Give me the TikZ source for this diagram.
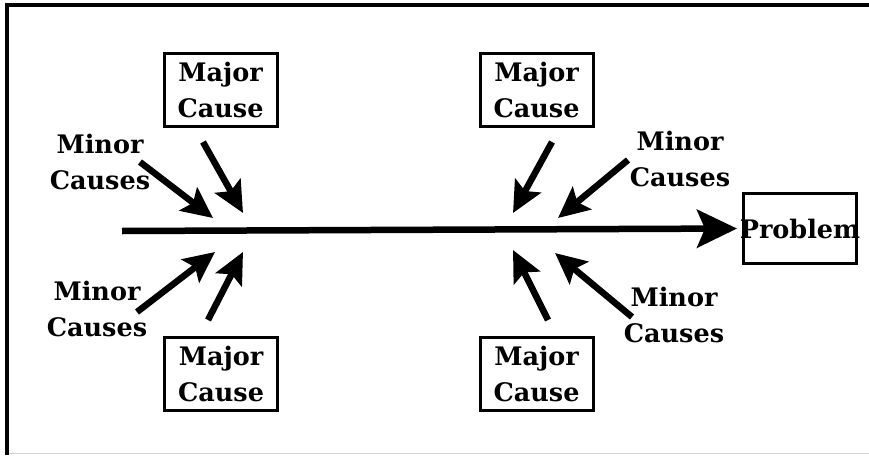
\documentclass[tikz,border=0pt]{standalone}
\usepackage{fontspec}
\setmainfont{DejaVu Serif}
\usetikzlibrary{arrows.meta}

\begin{document}
\begin{tikzpicture}[x=1pt,y=-1pt,
        every node/.style={font=\bfseries\fontsize{25.5}{36}\selectfont, align=center, inner sep=0pt},
        causebox/.style={draw, line width=3pt, minimum width=113pt, minimum height=73pt},
        bone/.style={line width=6.5pt, -{Stealth[length=31pt,width=29pt,inset=6pt]}}]
        \useasboundingbox (0,0) rectangle (869,455);
        % frame
        \draw[line width=4pt] (7,455) -- (7,5) -- (869,5);
        \draw[gray!35, line width=1.5pt] (9,453.5) -- (869,453.5);
        % spine and problem
        \coordinate (tail) at (122,231);
        \node[causebox, minimum height=70pt] (problem) at (800,228.5) {\makebox[110pt]{Problem}};
        \draw[line width=6.5pt, -{Stealth[length=40pt,width=38pt,inset=8pt]}, shorten >=5pt] (tail) -- (problem.west);
        % major causes
        \node[causebox] (ulmajor) at (220.5,90) {Major\\Cause};
        \node[causebox] (urmajor) at (536.5,90) {Major\\Cause};
        \node[causebox] (llmajor) at (221,373.5) {Major\\Cause};
        \node[causebox] (lrmajor) at (536.5,373.5) {Major\\Cause};
        % minor causes
        \node (ulminor) at (100,162) {Minor\\Causes};
        \node (llminor) at (97,308.5) {Minor\\Causes};
        \node (urminor) at (680,159) {Minor\\Causes};
        \node (lrminor) at (674,315) {Minor\\Causes};
        % bones
        \coordinate (ulmaj0) at (203,142);  \coordinate (ulmaj1) at (243,213);
        \coordinate (ulmin0) at (140,162);  \coordinate (ulmin1) at (213,218);
        \coordinate (llmaj0) at (208,320);  \coordinate (llmaj1) at (243,252);
        \coordinate (llmin0) at (137,312);  \coordinate (llmin1) at (215,252);
        \coordinate (urmaj0) at (552,142);  \coordinate (urmaj1) at (513,213);
        \coordinate (urmin0) at (628,160);  \coordinate (urmin1) at (558,218);
        \coordinate (lrmaj0) at (548,320);  \coordinate (lrmaj1) at (513,250);
        \coordinate (lrmin0) at (632,317);  \coordinate (lrmin1) at (555,253);
        \foreach \b in {ulmaj,ulmin,llmaj,llmin,urmaj,urmin,lrmaj,lrmin} {
            \draw[bone] (\b0) -- (\b1);
        }
    \end{tikzpicture}
\end{document}
